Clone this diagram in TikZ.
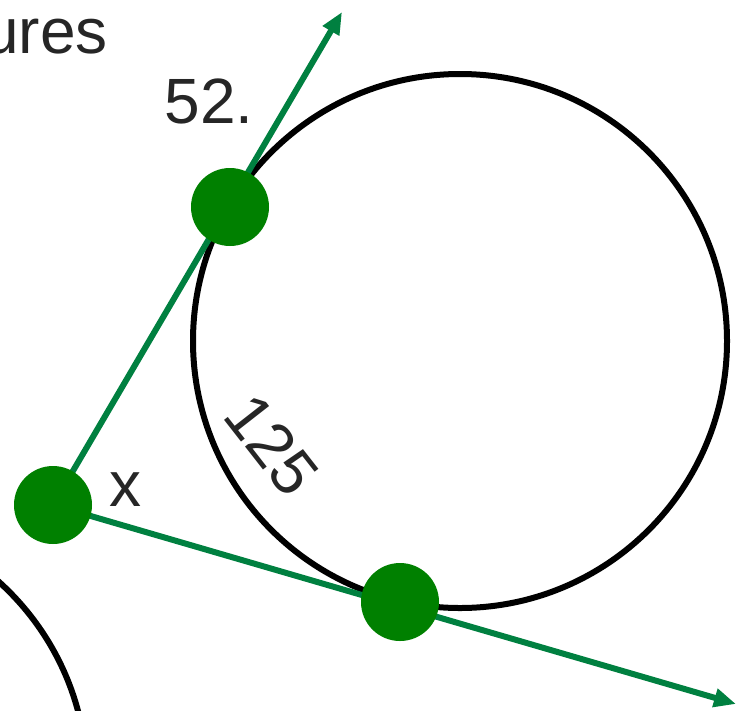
\documentclass[tikz,border=0pt]{standalone}
\usepackage{fontspec}
\setmainfont{Liberation Sans}
\usetikzlibrary{arrows.meta,calc,positioning}
\definecolor{dotgreen}{HTML}{008000}
\definecolor{linegreen}{HTML}{008040}

\begin{document}
\begin{tikzpicture}[x=1pt,y=1pt,
  tangent/.style={draw=linegreen,line width=6pt,-{Triangle[length=22pt,width=18pt]}},
  ring/.style={draw=black,line width=6pt},
  dot/.style={circle,fill=dotgreen,minimum size=78pt,inner sep=0pt},
  lbl/.style={font=\fontsize{64}{76}\selectfont,text=black!85,inner sep=0pt}]
\useasboundingbox (0,0) rectangle (738,-710);
\clip (0,0) rectangle (738,-710);
% points of the figure
\coordinate (V) at (53,-505);
\coordinate (A) at (230,-207);
\coordinate (B) at (400,-602);
\coordinate (T1) at (342,-12);
\coordinate (T2) at (736,-704);
% circles
\node[ring,circle,minimum size=534pt,inner sep=0pt] (circ) at (460,-341) {};
\draw[ring] (-180,-780) circle (267);
% tangent rays
\draw[tangent] (V) -- (T1);
\draw[tangent] (V) -- (T2);
% dots
\node[dot] (dV) at (V) {};
\node[dot] (dA) at (A) {};
\node[dot] (dB) at (B) {};
% labels
\node[lbl,anchor=base east] (fig) at (108,-53) {ures};
\node[lbl] (num) at (209,-101) {52.};
\node[lbl] (ang) at (125,-490) {x};
\node[lbl,rotate=-52] (arc) at (272,-445) {125};
\end{tikzpicture}
\end{document}
